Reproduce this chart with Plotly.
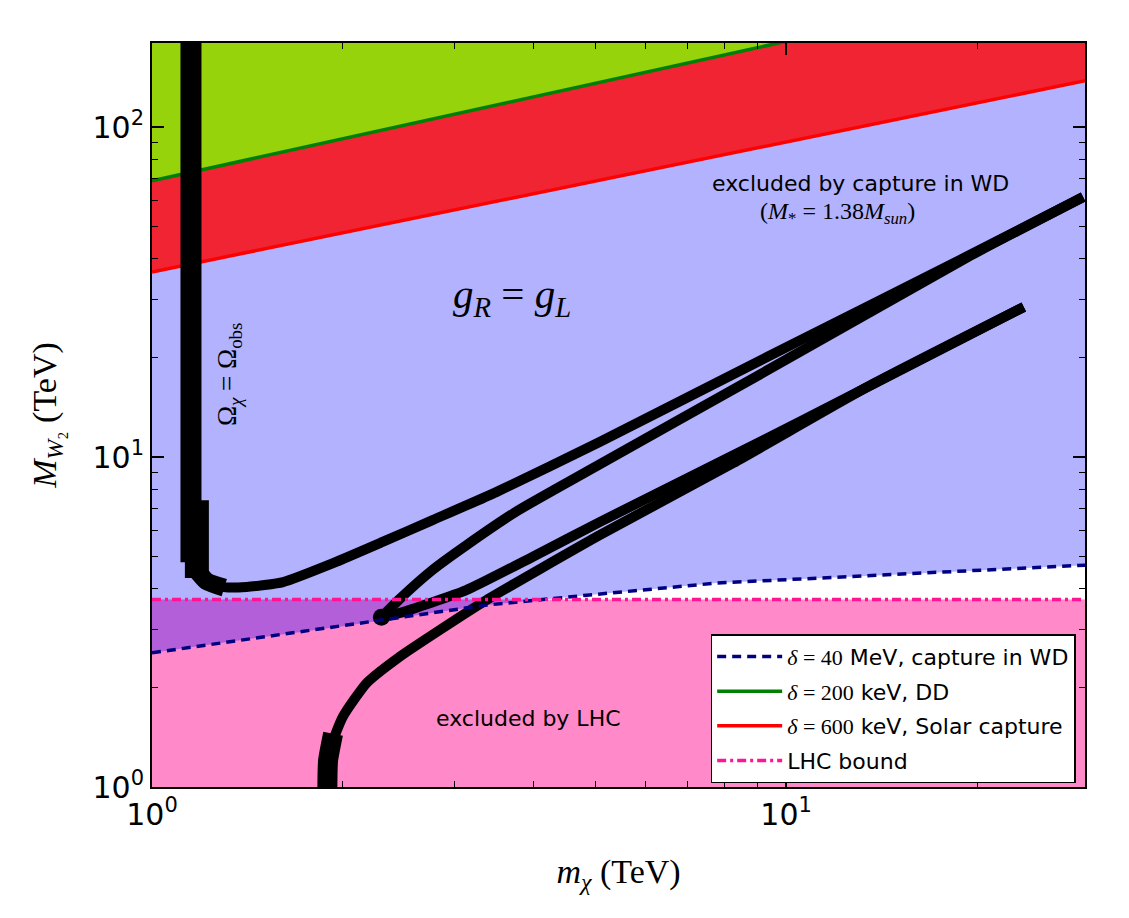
import numpy as np
import plotly.graph_objects as go

# x: m_chi (TeV), y: M_W2 (TeV)
wd_x = [1, 1.5, 2, 2.31, 3.37, 4.9, 7.76, 10, 15, 20, 30]
wd_y = [2.55, 2.85, 3.07, 3.2, 3.56, 3.82, 4.15, 4.25, 4.41, 4.53, 4.71]

dd_x = [1, 10]
dd_y = [68.8, 182]

solar_x = [1, 30]
solar_y = [36.4, 139]

lhc_x = [1, 30]
lhc_y = [3.7, 3.7]

# relic abundance curves (Omega_chi = Omega_obs)
band_x = [1.152, 1.152]
band_y = [200, 4.8]
band2_x = [1.177, 1.177]
band2_y = [7.4, 4.3]

relA_x = [1.17, 1.2, 1.29, 1.41, 1.61, 1.93, 2.31, 2.77, 3.49, 5.08, 9.33, 19.4, 29.4]
relA_y = [4.7, 4.3, 4.04, 4.04, 4.18, 4.77, 5.53, 6.44, 7.83, 11.1, 20.1, 40.8, 61.4]
relA_thick_x = [1.17, 1.22, 1.3]
relA_thick_y = [4.6, 4.2, 4.02]

relB_x = [2.30, 2.46, 2.77, 3.13, 3.76, 5.08, 9.33, 19.4, 29.4]
relB_y = [3.27, 3.72, 4.55, 5.4, 6.85, 9.5, 18.3, 40.5, 61.4]

relC_x = [2.30, 2.46, 3.13, 3.98, 5.08, 10.6, 23.7]
relC_y = [3.27, 3.37, 3.95, 4.98, 6.35, 12.9, 28.5]

relD_x = [1.88, 1.907, 2.0, 2.178, 2.458, 2.841, 3.37, 5.08, 8.26, 13.5, 23.7]
relD_y = [1.0, 1.294, 1.633, 2.062, 2.483, 2.99, 3.69, 5.8, 9.6, 16.4, 28.5]
relD_thick_x = [1.89, 1.895, 1.93]
relD_thick_y = [0.95, 1.2, 1.45]

FLOOR = 0.5
CEIL = 1000

fig = go.Figure()

def region(xs, ys, edge, color):
    fig.add_trace(go.Scatter(
        x = list(xs) + [xs[-1], xs[0]],
        y = list(ys) + [edge, edge],
        fill = 'toself', fillcolor = color, mode = 'none',
        showlegend = False, hoverinfo = 'skip'))

region(lhc_x, lhc_y, FLOOR, 'rgba(255,20,147,0.5)')
region(wd_x, wd_y, CEIL, 'rgba(0,0,255,0.3)')
region(solar_x, solar_y, CEIL, 'rgba(255,0,0,0.8)')
region(dd_x, dd_y, CEIL, 'rgba(127,255,0,0.8)')

serif = 'font-family:Liberation Serif'

fig.add_trace(go.Scatter(
    x = dd_x, y = dd_y, mode = 'lines',
    line = dict(color = 'green', width = 3.5),
    name = f'<span style="{serif}"><i>δ</i> = 200</span> keV, DD',
    legendrank = 2, legendgroup = 'b'))
fig.add_trace(go.Scatter(
    x = solar_x, y = solar_y, mode = 'lines',
    line = dict(color = 'red', width = 3.5),
    name = f'<span style="{serif}"><i>δ</i> = 600</span> keV, Solar capture',
    legendrank = 3, legendgroup = 'c'))

def relic(xs, ys, w):
    fig.add_trace(go.Scatter(
        x = xs, y = ys, mode = 'lines',
        line = dict(color = 'black', width = w, shape = 'spline', smoothing = 0.5),
        showlegend = False, hoverinfo = 'skip'))

relic(band_x, band_y, 21)
relic(band2_x, band2_y, 24)
relic(relA_x, relA_y, 10)
relic(relA_thick_x, relA_thick_y, 18)
relic(relB_x, relB_y, 10)
relic(relC_x, relC_y, 10)
relic(relD_x, relD_y, 10)
relic(relD_thick_x, relD_thick_y, 20)
fig.add_trace(go.Scatter(
    x = [relB_x[0]], y = [relB_y[0]], mode = 'markers',
    marker = dict(color = 'black', size = 17),
    showlegend = False, hoverinfo = 'skip'))

fig.add_trace(go.Scatter(
    x = wd_x, y = wd_y, mode = 'lines',
    line = dict(color = 'navy', width = 3.5, dash = '9px,6px'),
    name = f'<span style="{serif}"><i>δ</i> = 40</span> MeV, capture in WD',
    legendrank = 1, legendgroup = 'a'))
fig.add_trace(go.Scatter(
    x = lhc_x, y = lhc_y, mode = 'lines',
    line = dict(color = 'deeppink', width = 3.5, dash = '9px,4px,3px,4px'),
    name = 'LHC bound',
    legendrank = 4, legendgroup = 'd'))

annotations = [
    dict(text = 'excluded by capture in WD', x = 0.759, y = 0.811,
         font = dict(family = 'DejaVu Sans', size = 22, color = 'black')),
    dict(text = '(<i>M</i><sub>*</sub> = 1.38<i>M</i><sub><i>sun</i></sub>)', x = 0.735, y = 0.772,
         font = dict(family = 'Liberation Serif', size = 24, color = 'black')),
    dict(text = '<i>g</i><sub><i>R</i></sub> = <i>g</i><sub><i>L</i></sub>', x = 0.386, y = 0.658,
         font = dict(family = 'Liberation Serif', size = 41, color = 'black')),
    dict(text = 'Ω<sub><i>χ</i></sub> = Ω<sub>obs</sub>', x = 0.0825, y = 0.555, textangle = -90,
         font = dict(family = 'Liberation Serif', size = 27, color = 'black')),
    dict(text = 'excluded by LHC', x = 0.404, y = 0.0926,
         font = dict(family = 'DejaVu Sans', size = 22, color = 'black')),
]
for a in annotations:
    fig.add_annotation(xref = 'paper', yref = 'paper', showarrow = False,
                       xanchor = 'center', yanchor = 'middle', **a)

minor_x = [m * 10**d for d in range(0, 2) for m in range(2, 10)]
minor_y = [m * 10**d for d in range(0, 3) for m in range(2, 10)]

axis_common = dict(
    type = 'log',
    showgrid = False, zeroline = False,
    showline = True, linecolor = 'black', linewidth = 2, mirror = 'ticks',
    ticks = 'inside', ticklen = 12, tickwidth = 1.5, tickcolor = 'black',
    tickfont = dict(family = 'DejaVu Sans', size = 30, color = 'black'),
)

fig.update_layout(
    width = 1129,
    height = 918,
    plot_bgcolor = 'white',
    paper_bgcolor = 'white',
    font = dict(color = 'black'),
    margin = dict(l = 144, r = 52, t = 35, b = 139),
    xaxis = dict(
        range = [0, np.log10(29.6)],
        tickvals = [1, 10],
        ticktext = ['10<sup>0</sup>', '10<sup>1</sup>'],
        minor = dict(tickvals = minor_x, ticks = 'inside', ticklen = 6, tickwidth = 1.2, tickcolor = 'black'),
        title = dict(text = '<i>m</i><sub><i>χ</i></sub> (TeV)', standoff = 28,
                     font = dict(family = 'Liberation Serif', size = 34, color = 'black')),
        **axis_common
    ),
    yaxis = dict(
        range = [0, 2.255],
        tickvals = [1, 10, 100],
        ticktext = ['10<sup>0</sup>', '10<sup>1</sup>', '10<sup>2</sup>'],
        minor = dict(tickvals = minor_y, ticks = 'inside', ticklen = 6, tickwidth = 1.2, tickcolor = 'black'),
        title = dict(text = '<i>M</i><sub><i>W</i>₂</sub> (TeV)', standoff = 26,
                     font = dict(family = 'Liberation Serif', size = 34, color = 'black')),
        **axis_common
    ),
    legend = dict(
        x = 0.99, y = 0.005, xanchor = 'right', yanchor = 'bottom',
        bgcolor = 'white', bordercolor = 'black', borderwidth = 1.5,
        font = dict(family = 'DejaVu Sans', size = 22, color = 'black'),
        traceorder = 'grouped', tracegroupgap = 3, itemwidth = 65,
    ),
    showlegend = True,
)

fig.write_html("out.html")
